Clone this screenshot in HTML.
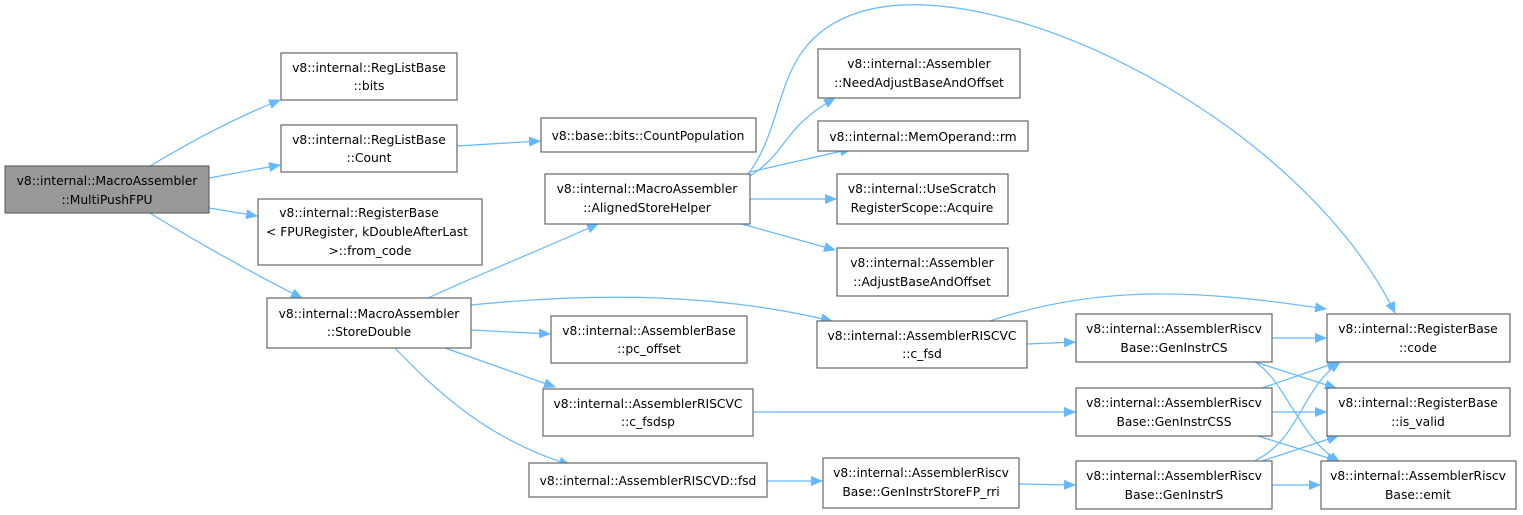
<!DOCTYPE html>
<html><head><meta charset="utf-8"><style>
html,body{margin:0;padding:0;background:#fff;}
svg{display:block;}
text{font-family:"DejaVu Sans","Liberation Sans",sans-serif;font-size:12.3px;fill:#000;}
.b{fill:#fff;stroke:#666;stroke-width:1.2;}
.e{fill:none;stroke:#63b8ff;stroke-width:1.2;}
</style></head><body>
<svg width="1523" height="515" viewBox="0 0 1523 515" xmlns="http://www.w3.org/2000/svg">
<defs><marker id="a" markerWidth="12" markerHeight="10" refX="11" refY="5" orient="auto" markerUnits="userSpaceOnUse"><path d="M0,0 L12,5 L0,10 z" fill="#63b8ff"/></marker></defs>
<g class="e" marker-end="url(#a)">
<path d="M150,166 C190,142 235,118 280,100"/>
<path d="M209,178 L280,165"/>
<path d="M209,208 L257,216"/>
<path d="M150,213 C190,238 250,272 302,298"/>
<path d="M457,146 L540,141"/>
<path d="M428,298 C480,274 540,250 598,224"/>
<path d="M471,305 C600,292 720,294 832,321"/>
<path d="M471,330 L550,334"/>
<path d="M445,348 L555,387"/>
<path d="M395,348 C440,395 490,440 570,465"/>
<path d="M750,176 C790,150 780,130 835,98"/>
<path d="M750,172 L851,149"/>
<path d="M750,199 L836,199"/>
<path d="M742,224 L835,250"/>
<path d="M748,174 C790,120 770,40 860,12 C1000,-30 1300,120 1395,313"/>
<path d="M990,321 C1100,284 1200,290 1326,309"/>
<path d="M1027,344 L1075,342"/>
<path d="M753,412 L1075,412"/>
<path d="M767,481 L822,481"/>
<path d="M1019,484 L1075,485"/>
<path d="M1272,338 L1326,338"/>
<path d="M1255,362 L1336,388"/>
<path d="M1255,362 C1285,380 1300,440 1340,462"/>
<path d="M1262,388 L1338,362"/>
<path d="M1272,412 L1326,412"/>
<path d="M1258,436 L1338,461"/>
<path d="M1254,461 C1300,440 1300,390 1340,362"/>
<path d="M1262,461 L1338,436"/>
<path d="M1272,485 L1320,485"/>
</g>
<rect x="5" y="166" width="204" height="47" fill="#999" stroke="#666" stroke-width="1.2"/>
<text x="107" y="185" text-anchor="middle">v8::internal::MacroAssembler</text>
<text x="107" y="204" text-anchor="middle">::MultiPushFPU</text>
<g class="b">
<rect x="281" y="53" width="176" height="47"/>
<rect x="281" y="125" width="176" height="47"/>
<rect x="258" y="199" width="224" height="66"/>
<rect x="267" y="298" width="204" height="50"/>
<rect x="541" y="118" width="215" height="34"/>
<rect x="545" y="174" width="205" height="50"/>
<rect x="551" y="316" width="196" height="47"/>
<rect x="543" y="389" width="210" height="47"/>
<rect x="529" y="463" width="238" height="34"/>
<rect x="818" y="49" width="202" height="49"/>
<rect x="818" y="121" width="210" height="30"/>
<rect x="837" y="174" width="171" height="50"/>
<rect x="837" y="248" width="171" height="48"/>
<rect x="817" y="321" width="210" height="47"/>
<rect x="823" y="458" width="196" height="50"/>
<rect x="1076" y="314" width="196" height="48"/>
<rect x="1076" y="388" width="196" height="48"/>
<rect x="1076" y="461" width="196" height="48"/>
<rect x="1327" y="314" width="183" height="48"/>
<rect x="1327" y="388" width="183" height="48"/>
<rect x="1321" y="461" width="195" height="48"/>
</g>
<g text-anchor="middle">
<text x="369" y="72">v8::internal::RegListBase</text><text x="369" y="90">::bits</text>
<text x="369" y="144">v8::internal::RegListBase</text><text x="369" y="162">::Count</text>
<text x="359" y="217">v8::internal::RegisterBase</text>
<text x="367" y="236">&lt; FPURegister, kDoubleAfterLast</text>
<text x="370" y="255">&gt;::from_code</text>
<text x="369" y="318">v8::internal::MacroAssembler</text><text x="369" y="336">::StoreDouble</text>
<text x="648" y="140">v8::base::bits::CountPopulation</text>
<text x="647" y="193">v8::internal::MacroAssembler</text><text x="647" y="212">::AlignedStoreHelper</text>
<text x="649" y="335">v8::internal::AssemblerBase</text><text x="649" y="353">::pc_offset</text>
<text x="648" y="408">v8::internal::AssemblerRISCVC</text><text x="648" y="426">::c_fsdsp</text>
<text x="648" y="485">v8::internal::AssemblerRISCVD::fsd</text>
<text x="919" y="68">v8::internal::Assembler</text><text x="919" y="87">::NeedAdjustBaseAndOffset</text>
<text x="923" y="141">v8::internal::MemOperand::rm</text>
<text x="922" y="193">v8::internal::UseScratch</text><text x="922" y="212">RegisterScope::Acquire</text>
<text x="922" y="267">v8::internal::Assembler</text><text x="922" y="286">::AdjustBaseAndOffset</text>
<text x="922" y="340">v8::internal::AssemblerRISCVC</text><text x="922" y="358">::c_fsd</text>
<text x="921" y="477">v8::internal::AssemblerRiscv</text><text x="921" y="496">Base::GenInstrStoreFP_rri</text>
<text x="1174" y="333">v8::internal::AssemblerRiscv</text><text x="1174" y="352">Base::GenInstrCS</text>
<text x="1174" y="407">v8::internal::AssemblerRiscv</text><text x="1174" y="426">Base::GenInstrCSS</text>
<text x="1174" y="480">v8::internal::AssemblerRiscv</text><text x="1174" y="499">Base::GenInstrS</text>
<text x="1418" y="333">v8::internal::RegisterBase</text><text x="1418" y="352">::code</text>
<text x="1418" y="407">v8::internal::RegisterBase</text><text x="1418" y="426">::is_valid</text>
<text x="1418" y="480">v8::internal::AssemblerRiscv</text><text x="1418" y="499">Base::emit</text>
</g>
</svg>
</body></html>
